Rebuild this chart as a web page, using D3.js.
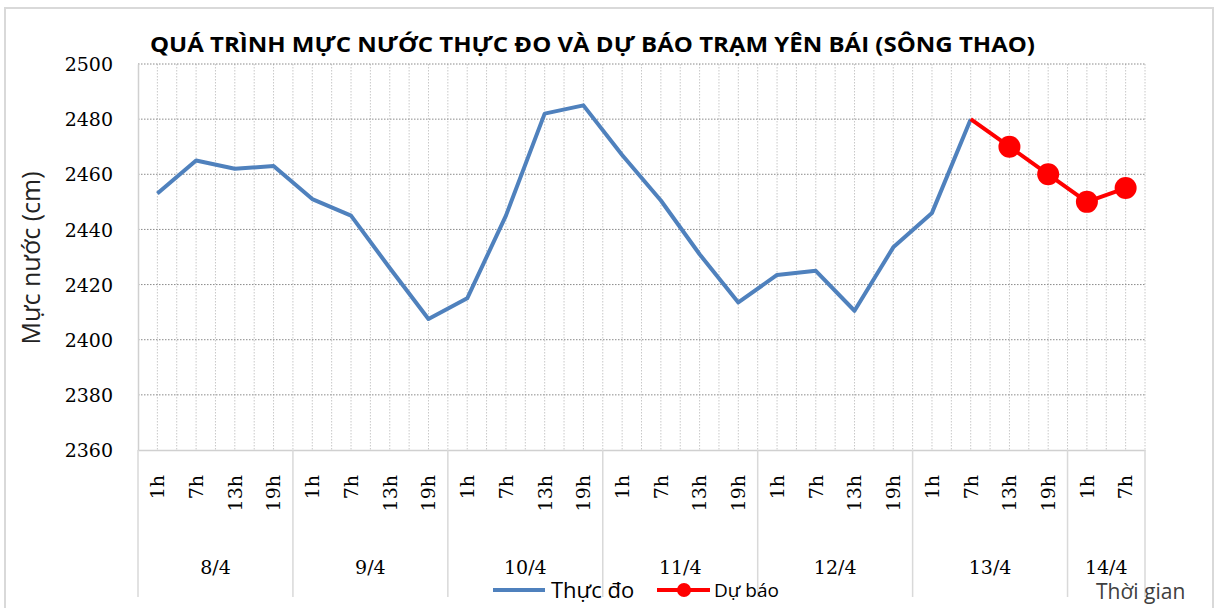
<!DOCTYPE html>
<html>
  <head>
    <meta charset="utf-8">
    <script type="text/javascript" src="https://cdn.jsdelivr.net/npm/d3@7"></script>
    <style type="text/css">

html, body {
  margin: 0;
  background: #fff;
}

svg {
  display: block;
}

.tick text, .day {
  font-family: "DejaVu Serif", serif;
  font-size: 19px;
  fill: #000;
}

.sans {
  font-family: "Open Sans", sans-serif;
}

    </style>
  </head>
  <body>
    <div id="chart"></div>
    <script type="text/javascript">

// days and the hours inside each day
var days = ["8/4", "9/4", "10/4", "11/4", "12/4", "13/4", "14/4"],
    hoursPerDay = [4, 4, 4, 4, 4, 4, 2],
    hours = ["1h", "7h", "13h", "19h"];

// measured water level (cm), 8/4 1h .. 13/4 7h
var observed = [2453, 2465, 2462, 2463,
                2451, 2445, 2426, 2407.5,
                2415, 2445, 2482, 2485,
                2467, 2450.5, 2431, 2413.5,
                2423.5, 2425, 2410.5, 2433.5,
                2446, 2480];

// forecast (cm), 13/4 7h .. 14/4 7h
var forecast = [2480, 2470, 2460, 2450, 2455],
    forecastStart = 21;

var yTicks = [2360, 2380, 2400, 2420, 2440, 2460, 2480, 2500];

var width = 1215,
    height = 608,
    plotLeft = 138,
    plotRight = 1145,
    plotTop = 64,
    plotBottom = 450;

// one key per slot: "dayIndex|hour"
var slots = [];
days.forEach(function(d, i) {
  for (var j = 0; j < hoursPerDay[i]; j++) slots.push(i + "|" + hours[j]);
});

var x = d3.scaleBand().domain(slots).range([plotLeft, plotRight]);
var y = d3.scaleLinear().domain([2360, 2500]).range([plotBottom, plotTop]);

var svg = d3.select("#chart").append("svg")
    .attr("width", width)
    .attr("height", height);

// outer frame
svg.append("rect")
    .attr("x", 5).attr("y", 8)
    .attr("width", 1208).attr("height", 610)
    .attr("fill", "none")
    .attr("stroke", "#d9d9d9")
    .attr("stroke-width", 2);

// vertical grid: slot edges and slot centres
var vgrid = [];
slots.forEach(function(s) {
  vgrid.push(x(s) + x.bandwidth() / 2);
  vgrid.push(x(s) + x.bandwidth());
});
svg.append("g").selectAll("line")
    .data(vgrid)
  .enter().append("line")
    .attr("x1", function(d) { return d; })
    .attr("x2", function(d) { return d; })
    .attr("y1", plotTop).attr("y2", plotBottom)
    .attr("stroke", "#c8c8c8")
    .attr("stroke-dasharray", "1.5,1.5");

// horizontal grid
svg.append("g").selectAll("line")
    .data(yTicks.slice(1))
  .enter().append("line")
    .attr("x1", plotLeft).attr("x2", plotRight)
    .attr("y1", y).attr("y2", y)
    .attr("stroke", "#8a8a8a")
    .attr("stroke-dasharray", "1.5,1.5");

// y axis
var yAxis = svg.append("g")
    .attr("transform", "translate(" + plotLeft + ",0)")
    .call(d3.axisLeft(y).tickValues(yTicks).tickSize(0).tickPadding(25).tickFormat(d3.format("d")));
yAxis.select(".domain").attr("stroke", "#d0d0d0").attr("stroke-width", 1.5);
yAxis.selectAll(".tick text").attr("dy", "0.35em");

// x axis with rotated hour labels
var xAxis = svg.append("g")
    .attr("transform", "translate(0," + plotBottom + ")")
    .call(d3.axisBottom(x).tickSize(0).tickFormat(function(d) { return d.split("|")[1]; }));
xAxis.select(".domain").attr("stroke", "#d0d0d0").attr("stroke-width", 1.5);
xAxis.selectAll(".tick text")
    .attr("transform", "rotate(-90)")
    .attr("text-anchor", "end")
    .attr("font-size", 20)
    .attr("x", -25)
    .attr("y", 0)
    .attr("dy", "0.36em");

// day groups
var dayStart = [], k = 0;
days.forEach(function(d, i) { dayStart.push(k); k += hoursPerDay[i]; });

var bounds = dayStart.map(function(s) { return x(slots[s]); }).concat([plotRight]);
svg.append("g").selectAll("line")
    .data(bounds)
  .enter().append("line")
    .attr("x1", function(d) { return d; })
    .attr("x2", function(d) { return d; })
    .attr("y1", plotBottom).attr("y2", 597)
    .attr("stroke", "#d9d9d9")
    .attr("stroke-width", 1.5);

svg.append("g").selectAll("text")
    .data(days)
  .enter().append("text")
    .attr("class", "day")
    .attr("x", function(d, i) { return (bounds[i] + bounds[i + 1]) / 2; })
    .attr("y", 574)
    .attr("text-anchor", "middle")
    .text(function(d) { return d; });

// observed line
var line = d3.line()
    .x(function(d) { return x(slots[d.i]) + x.bandwidth() / 2; })
    .y(function(d) { return y(d.v); });

var obs = observed.map(function(v, i) { return {i: i, v: v}; });
var fc = forecast.map(function(v, i) { return {i: forecastStart + i, v: v}; });

svg.append("path")
    .datum(obs)
    .attr("d", line)
    .attr("fill", "none")
    .attr("stroke", "#4f81bd")
    .attr("stroke-width", 4)
    .attr("stroke-linejoin", "round");

svg.append("path")
    .datum(fc)
    .attr("d", line)
    .attr("fill", "none")
    .attr("stroke", "#ff0000")
    .attr("stroke-width", 4)
    .attr("stroke-linejoin", "round");

svg.append("g").selectAll("circle")
    .data(fc.slice(1))
  .enter().append("circle")
    .attr("cx", function(d) { return x(slots[d.i]) + x.bandwidth() / 2; })
    .attr("cy", function(d) { return y(d.v); })
    .attr("r", 11)
    .attr("fill", "#ff0000");

// title
svg.append("text")
    .attr("class", "sans")
    .attr("x", 150).attr("y", 52)
    .attr("font-size", 22)
    .attr("font-weight", "bold")
    .attr("textLength", 885)
    .attr("lengthAdjust", "spacingAndGlyphs")
    .text("QUÁ TRÌNH MỰC NƯỚC THỰC ĐO VÀ DỰ BÁO TRẠM YÊN BÁI (SÔNG THAO)");

// y axis title
svg.append("text")
    .attr("class", "sans")
    .attr("transform", "translate(40,258) rotate(-90)")
    .attr("text-anchor", "middle")
    .attr("font-size", 25)
    .attr("fill", "#222")
    .text("Mực nước (cm)");

// x axis title
svg.append("text")
    .attr("class", "sans")
    .attr("x", 1096).attr("y", 599)
    .attr("font-size", 21)
    .attr("fill", "#404040")
    .text("Thời gian");

// legend
var lg = svg.append("g").attr("transform", "translate(0,590)");
lg.append("line")
    .attr("x1", 493).attr("x2", 545)
    .attr("stroke", "#4f81bd").attr("stroke-width", 4);
lg.append("text")
    .attr("class", "sans")
    .attr("x", 551).attr("y", 8)
    .attr("font-size", 22)
    .text("Thực đo");
lg.append("line")
    .attr("x1", 657).attr("x2", 710)
    .attr("stroke", "#ff0000").attr("stroke-width", 4);
lg.append("circle")
    .attr("cx", 684).attr("r", 7)
    .attr("fill", "#ff0000");
lg.append("text")
    .attr("class", "sans")
    .attr("x", 714).attr("y", 7)
    .attr("font-size", 19)
    .text("Dự báo");

    </script>
  </body>
</html>
